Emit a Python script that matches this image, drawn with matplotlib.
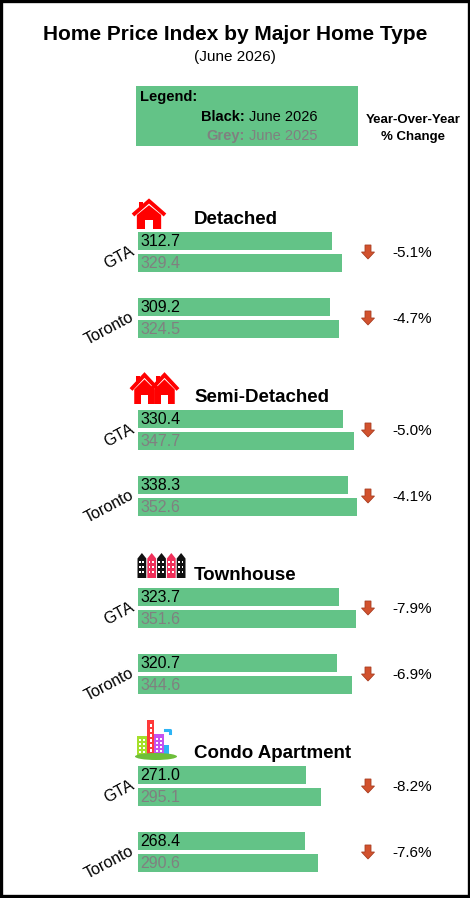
import matplotlib
matplotlib.use("Agg")
import matplotlib.pyplot as plt
from matplotlib.patches import Rectangle, Polygon, Ellipse

# ---------------- data ----------------
home_types = ["Detached", "Semi-Detached", "Townhouse", "Condo Apartment"]
regions = ["GTA", "Toronto"]
hpi_2026 = [[312.7, 309.2], [330.4, 338.3], [323.7, 320.7], [271.0, 268.4]]
hpi_2025 = [[329.4, 324.5], [347.7, 352.6], [351.6, 344.6], [295.1, 290.6]]
yoy_change = [["-5.1%", "-4.7%"], ["-5.0%", "-4.1%"], ["-7.9%", "-6.9%"], ["-8.2%", "-7.6%"]]

title = "Home Price Index by Major Home Type"
subtitle = "(June 2026)"

# ---------------- style ----------------
FONT = ["Liberation Sans", "DejaVu Sans"]
plt.rcParams["font.family"] = FONT
GREEN = "#63C387"
GREY = "#808080"
ARROW = "#D2522E"

W, H = 470, 898
fig = plt.figure(figsize=(W / 100, H / 100), dpi=100)

# background axes in pixel coordinates
bg = fig.add_axes([0, 0, 1, 1])
bg.set_xlim(0, W)
bg.set_ylim(H, 0)
bg.axis("off")

# bar axes: value 0 at x=138 px, 0.6205 px per index point
BAR_X0 = 138
SCALE = 0.6205
ax = fig.add_axes([BAR_X0 / W, 0, (W - BAR_X0) / W, 1])
ax.set_xlim(0, (W - BAR_X0) / SCALE)
ax.set_ylim(H, 0)
ax.axis("off")
ax.patch.set_alpha(0)

# ---------------- header ----------------
bg.text(235, 34, title, ha="center", va="center", fontsize=15, fontweight="bold")
bg.text(235, 57, subtitle, ha="center", va="center", fontsize=11)

bg.add_patch(Rectangle((136, 86), 222, 60, facecolor=GREEN, edgecolor="none"))
bg.text(140, 97, "Legend:", ha="left", va="center", fontsize=10.5, fontweight="bold")
bg.text(245, 117, "Black:", ha="right", va="center", fontsize=10.5, fontweight="bold", color="black")
bg.text(249, 117, "June 2026", ha="left", va="center", fontsize=10.5, color="black")
bg.text(245, 136, "Grey:", ha="right", va="center", fontsize=10.5, fontweight="bold", color=GREY)
bg.text(249, 136, "June 2025", ha="left", va="center", fontsize=10.5, color=GREY)

bg.text(413, 120, "Year-Over-Year", ha="center", va="center", fontsize=9.5, fontweight="bold")
bg.text(413, 137, "% Change", ha="center", va="center", fontsize=9.5, fontweight="bold")


# ---------------- icons ----------------
def house(x0, y0, w, h, color="#FF0000"):
    cx = x0 + w / 2
    bg.plot([x0, cx, x0 + w], [y0 + h * 0.5, y0, y0 + h * 0.5], color=color, lw=2.8,
            solid_capstyle="butt", solid_joinstyle="miter")
    bg.add_patch(Rectangle((x0 + w * 0.2, y0 + h * 0.04), w * 0.12, h * 0.22, color=color, lw=0))
    bg.add_patch(Polygon([(x0 + w * 0.12, y0 + h), (x0 + w * 0.12, y0 + h * 0.5), (cx, y0 + h * 0.15),
                          (x0 + w * 0.88, y0 + h * 0.5), (x0 + w * 0.88, y0 + h)],
                         closed=True, color=color, lw=0))
    bg.add_patch(Rectangle((cx - w * 0.12, y0 + h * 0.68), w * 0.24, h * 0.32, color="white", lw=0))


def townhouses(x0, y0, w, h):
    n = 5
    uw = w / n
    cols = ["#111111", "#F0305A", "#111111", "#F0305A", "#111111"]
    for i in range(n):
        xl = x0 + i * uw
        bg.add_patch(Polygon([(xl + 0.5, y0 + h), (xl + 0.5, y0 + h * 0.22), (xl + uw / 2, y0),
                              (xl + uw - 0.5, y0 + h * 0.22), (xl + uw - 0.5, y0 + h)],
                             closed=True, color=cols[i], lw=0))
        for r in range(3):
            for c in range(2):
                bg.add_patch(Rectangle((xl + 1.8 + c * 3.6, y0 + h * 0.32 + r * h * 0.2),
                                       1.7, 2.2, color="white", lw=0))


def condo(x0, y0):
    bg.add_patch(Rectangle((x0 + 1, y0 + 17), 11, 20, color="#A5E02A", lw=0))
    bg.add_patch(Rectangle((x0 + 11, y0 + 1), 7, 36, color="#FF3A3A", lw=0))
    bg.add_patch(Rectangle((x0 + 18, y0 + 15), 10, 22, color="#C552F0", lw=0))
    bg.plot([x0 + 29, x0 + 34, x0 + 34], [y0 + 11, y0 + 11, y0 + 14], color="#2CB4F5", lw=2.2)
    bg.add_patch(Rectangle((x0 + 28, y0 + 26), 5, 11, color="#2CB4F5", lw=0))
    for r in range(4):
        for c in range(2):
            bg.add_patch(Rectangle((x0 + 3 + c * 4, y0 + 20 + r * 4), 2, 2, color="white", lw=0))
            bg.add_patch(Rectangle((x0 + 20 + c * 4, y0 + 19 + r * 4), 2, 2.2, color="white", lw=0))
    for r in range(6):
        bg.add_patch(Rectangle((x0 + 13.5, y0 + 5 + r * 5), 2, 2.5, color="white", lw=0))
    bg.add_patch(Ellipse((x0 + 20, y0 + 37.5), 42, 7, color="#6DBE3A", lw=0))


# ---------------- sections ----------------
SEC0, SEC_STEP, ROW_STEP = 232, 178, 66
BAR_H, GAP = 18, 4

for s, name in enumerate(home_types):
    top = SEC0 + SEC_STEP * s
    bg.text(194, top - 13, name, ha="left", va="center", fontsize=13.5, fontweight="bold")
    if s == 0:
        house(133, top - 31, 32, 28)
    elif s == 1:
        house(151, top - 35, 27, 29)
        house(131, top - 35, 27, 29)
    elif s == 2:
        townhouses(137, top - 35, 49, 25)
    else:
        condo(136, top - 47)

    for r, reg in enumerate(regions):
        ytop = top + ROW_STEP * r
        yc_cur = ytop + BAR_H / 2
        yc_prev = ytop + BAR_H + GAP + BAR_H / 2
        ax.barh(yc_cur, hpi_2026[s][r], height=BAR_H, color=GREEN, linewidth=0)
        ax.barh(yc_prev, hpi_2025[s][r], height=BAR_H, color=GREEN, linewidth=0)
        ax.text(3.2, yc_cur + 0.5, f"{hpi_2026[s][r]:.1f}", ha="left", va="center",
                fontsize=11.5, color="black")
        ax.text(3.2, yc_prev + 0.5, f"{hpi_2025[s][r]:.1f}", ha="left", va="center",
                fontsize=11.5, color=GREY)

        ymid = ytop + BAR_H + GAP / 2
        bg.text(133, ymid - 2, reg, ha="right", va="center", rotation=28,
                rotation_mode="anchor", fontsize=11.5)
        ax_c = 368
        bg.add_patch(Polygon([(ax_c - 3, ymid - 7), (ax_c + 3, ymid - 7), (ax_c + 3, ymid),
                              (ax_c + 6.5, ymid), (ax_c, ymid + 7), (ax_c - 6.5, ymid),
                              (ax_c - 3, ymid)], closed=True, facecolor=ARROW,
                             edgecolor="#A83E22", lw=0.6))
        bg.text(392, ymid + 1, yoy_change[s][r], ha="left", va="center", fontsize=11)

# frame
bg.add_patch(Rectangle((1, 1), W - 2.5, H - 3, fill=False, edgecolor="black", lw=2.4))

fig.savefig("out.png", dpi=100)
